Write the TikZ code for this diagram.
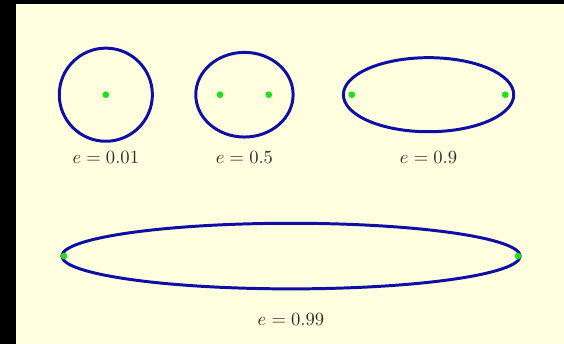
\documentclass[tikz,border=0pt]{standalone}
\usetikzlibrary{calc}
\definecolor{paper}{RGB}{255,255,224}
\definecolor{orbit}{RGB}{15,15,165}
\definecolor{focus}{RGB}{30,225,30}
\definecolor{ink}{RGB}{45,45,45}
\tikzset{
  orbit/.style={draw=orbit,line width=1.6pt},
  focus/.style={fill=focus},
  ecc/.style={text=ink}
}
\begin{document}
\begin{tikzpicture}
\fill[black] (0,0) rectangle (10.66,6.50);
\fill[paper] (0.30,0) rectangle (10.66,6.43);
\useasboundingbox (0,0) rectangle (10.66,6.50);

% e = 0.01
\coordinate (C1) at (2.00,4.71);
\draw[orbit] (C1) ellipse [x radius=0.88,y radius=0.88];
\fill[focus] (C1) circle (1.8pt);
\node[ecc] (e1) at (2.00,3.52) {\(e=0.01\)};

% e = 0.5
\coordinate (C2) at (4.62,4.71);
\coordinate (F2a) at ($(C2)+(-0.46,0)$);
\coordinate (F2b) at ($(C2)+(0.46,0)$);
\draw[orbit] (C2) ellipse [x radius=0.92,y radius=0.80];
\fill[focus] (F2a) circle (1.8pt);
\fill[focus] (F2b) circle (1.8pt);
\node[ecc] (e2) at (4.62,3.52) {\(e=0.5\)};

% e = 0.9
\coordinate (C3) at (8.10,4.71);
\coordinate (F3a) at ($(C3)+(-1.45,0)$);
\coordinate (F3b) at ($(C3)+(1.45,0)$);
\draw[orbit] (C3) ellipse [x radius=1.61,y radius=0.70];
\fill[focus] (F3a) circle (1.8pt);
\fill[focus] (F3b) circle (1.8pt);
\node[ecc] (e3) at (8.10,3.52) {\(e=0.9\)};

% e = 0.99
\coordinate (C4) at (5.50,1.66);
\coordinate (F4a) at ($(C4)+(-4.29,0)$);
\coordinate (F4b) at ($(C4)+(4.29,0)$);
\draw[orbit] (C4) ellipse [x radius=4.33,y radius=0.62];
\fill[focus] (F4a) circle (1.8pt);
\fill[focus] (F4b) circle (1.8pt);
\node[ecc] (e4) at (5.50,0.47) {\(e=0.99\)};
\end{tikzpicture}
\end{document}
